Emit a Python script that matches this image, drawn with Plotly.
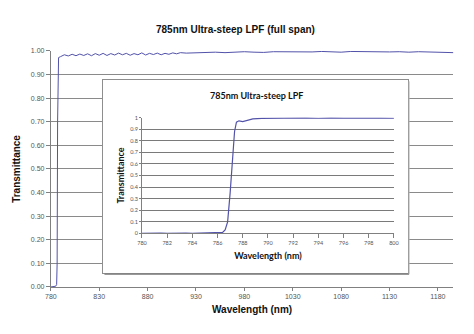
import plotly.graph_objects as go

# Full-span transmittance of the 785 nm ultra-steep long-pass filter
span_wl = [780, 782, 784, 785, 786, 786.5, 787, 787.5, 788, 790,
           794, 798, 802, 806, 810, 814, 818, 822, 826, 830,
           834, 838, 842, 846, 850, 854, 858, 862, 866, 870,
           874, 878, 882, 886, 890, 894, 898, 902, 906, 910,
           914, 920, 930, 940, 950, 960, 970, 980, 990, 1000,
           1010, 1020, 1030, 1040, 1050, 1060, 1070, 1080, 1090, 1100,
           1110, 1120, 1130, 1140, 1150, 1160, 1170, 1180, 1190, 1196]
span_t = [0.0, 0.0, 0.002, 0.003, 0.01, 0.1, 0.7, 0.96, 0.972, 0.976,
          0.984, 0.979, 0.986, 0.980, 0.987, 0.981, 0.988, 0.980, 0.989, 0.982,
          0.990, 0.981, 0.989, 0.983, 0.991, 0.984, 0.990, 0.982, 0.989, 0.984,
          0.992, 0.983, 0.990, 0.985, 0.991, 0.984, 0.990, 0.986, 0.992, 0.988,
          0.993, 0.991, 0.993, 0.992, 0.995, 0.993, 0.996, 0.997, 0.995, 0.994,
          0.997, 0.996, 0.998, 0.997, 0.996, 0.998, 0.997, 0.995, 0.998, 0.997,
          0.996, 0.998, 0.996, 0.997, 0.995, 0.997, 0.996, 0.994, 0.995, 0.993]

# Zoomed edge region 780-800 nm
edge_wl = [780, 780.5, 781, 781.5, 782, 782.5, 783, 783.5, 784, 784.5,
           785, 785.5, 786, 786.4, 786.6, 786.8, 787.0, 787.2, 787.35, 787.5,
           787.7, 788.0, 788.4, 788.8, 789.5, 790, 791, 792, 793, 794,
           795, 796, 797, 798, 799, 800]
edge_t = [0.0, 0.003, 0.0, 0.003, 0.0, 0.002, 0.0, 0.003, 0.0, 0.002,
          0.0, 0.002, 0.002, 0.008, 0.03, 0.1, 0.35, 0.65, 0.88, 0.96,
          0.972, 0.965, 0.975, 0.988, 0.993, 0.994, 0.995, 0.994, 0.997, 0.994,
          0.998, 0.995, 0.997, 0.996, 0.995, 0.994]

span_ticks = [780, 830, 880, 930, 980, 1030, 1080, 1130, 1180]
span_yticks = [0.0, 0.1, 0.2, 0.3, 0.4, 0.5, 0.6, 0.7, 0.8, 0.9, 1.0]
edge_ticks = [780, 782, 784, 786, 788, 790, 792, 794, 796, 798, 800]
edge_yticks = [0, 0.1, 0.2, 0.3, 0.4, 0.5, 0.6, 0.7, 0.8, 0.9, 1]

W, H = 474, 334
LINE = "#5252aa"
ARIAL = "Liberation Sans, Arial, sans-serif"
CALIBRI = "Lato, Open Sans, sans-serif"


def px_x(a, b):
    return [a / W, b / W]


def px_y(top, bottom):
    return [(H - bottom) / H, (H - top) / H]


fig = go.Figure()

fig.add_trace(go.Scatter(x=span_wl, y=span_t, mode="lines",
                         line=dict(color=LINE, width=1), xaxis="x", yaxis="y",
                         showlegend=False, hoverinfo="skip"))
# empty trace that carries the framed inset panel
fig.add_trace(go.Scatter(x=[], y=[], xaxis="x2", yaxis="y2", showlegend=False))
fig.add_trace(go.Scatter(x=edge_wl, y=edge_t, mode="lines",
                         line=dict(color=LINE, width=1.2), xaxis="x3", yaxis="y3",
                         showlegend=False, hoverinfo="skip"))

tick_font = dict(family=ARIAL, size=7, color="#555555")
small_font = dict(family=CALIBRI, size=5.5, color="#555555")

fig.update_layout(
    width=W, height=H,
    margin=dict(l=0, r=0, t=0, b=0),
    paper_bgcolor="white", plot_bgcolor="white",
    showlegend=False,
    xaxis=dict(domain=px_x(46, 459), range=[780, 1196], tickvals=span_ticks,
               ticktext=[str(v) for v in span_ticks],
               showgrid=False, zeroline=False, showline=True, linecolor="#808080",
               linewidth=1, ticks="outside", ticklen=3, tickcolor="#808080",
               tickfont=tick_font, anchor="y",
               title=dict(text="<b>Wavelength (nm)</b>",
                          font=dict(family=ARIAL, size=10, color="#111111"),
                          standoff=6)),
    yaxis=dict(domain=px_y(48, 289), range=[0, 1.0], tickvals=span_yticks,
               ticktext=["%.2f" % v for v in span_yticks],
               showgrid=True, gridcolor="#8a8a8a", gridwidth=1,
               zeroline=False, showline=True, linecolor="#808080", linewidth=1,
               ticks="outside", ticklen=4, tickcolor="#808080",
               tickfont=tick_font, anchor="x",
               title=dict(text="<b>Transmittance</b>",
                          font=dict(family=ARIAL, size=10, color="#111111"),
                          standoff=8)),
    # framed inset panel
    xaxis2=dict(domain=px_x(99.5, 412.5), range=[0, 1], visible=True,
                showgrid=False, zeroline=False, showticklabels=False,
                showline=True, mirror=True, linecolor="#8e8e8e", linewidth=1,
                ticks="", anchor="y2"),
    yaxis2=dict(domain=px_y(77.5, 275), range=[0, 1], showgrid=False,
                zeroline=False, showticklabels=False,
                showline=True, mirror=True, linecolor="#8e8e8e", linewidth=1,
                ticks="", anchor="x2"),
    # inset plot
    xaxis3=dict(domain=px_x(139.5, 398), range=[780, 800], tickvals=edge_ticks,
                ticktext=[str(v) for v in edge_ticks],
                showgrid=False, zeroline=False, showline=True,
                linecolor="#808080", linewidth=1, ticks="outside", ticklen=4,
                tickcolor="#808080", tickfont=small_font, anchor="y3",
                title=dict(text="<b>Wavelength (nm)</b>",
                           font=dict(family=CALIBRI, size=9, color="#111111"),
                           standoff=7)),
    yaxis3=dict(domain=px_y(116, 234.3), range=[0, 1], tickvals=edge_yticks,
                ticktext=[("%g" % v) for v in edge_yticks],
                showgrid=True, gridcolor="#7a7a7a", gridwidth=1.2,
                zeroline=False, showline=True, linecolor="#808080", linewidth=1,
                ticks="outside", ticklen=2, tickcolor="#808080",
                tickfont=small_font, anchor="x3",
                title=dict(text="<b>Transmittance</b>",
                           font=dict(family=CALIBRI, size=9, color="#111111"),
                           standoff=4)),
    shapes=[
        # soft drop shadow along the bottom and right of the inset frame
        dict(type="line", xref="paper", yref="paper",
             x0=101 / W, x1=413.5 / W, y0=(H - 276) / H, y1=(H - 276) / H,
             line=dict(color="#6e6e6e", width=1)),
        dict(type="line", xref="paper", yref="paper",
             x0=413.5 / W, x1=413.5 / W, y0=(H - 276) / H, y1=(H - 79) / H,
             line=dict(color="#b0b0b0", width=1)),
    ],
    annotations=[
        dict(text="<b>785nm Ultra-steep LPF (full span)</b>", x=235 / W,
             y=(H - 26) / H, xref="paper", yref="paper", showarrow=False,
             xanchor="center", yanchor="middle",
             font=dict(family=ARIAL, size=10, color="#111111")),
        dict(text="<b>785nm Ultra-steep LPF</b>", x=257 / W, y=(H - 93) / H,
             xref="paper", yref="paper", showarrow=False,
             xanchor="center", yanchor="middle",
             font=dict(family=CALIBRI, size=9, color="#111111")),
    ],
)

fig.write_html("out.html")
